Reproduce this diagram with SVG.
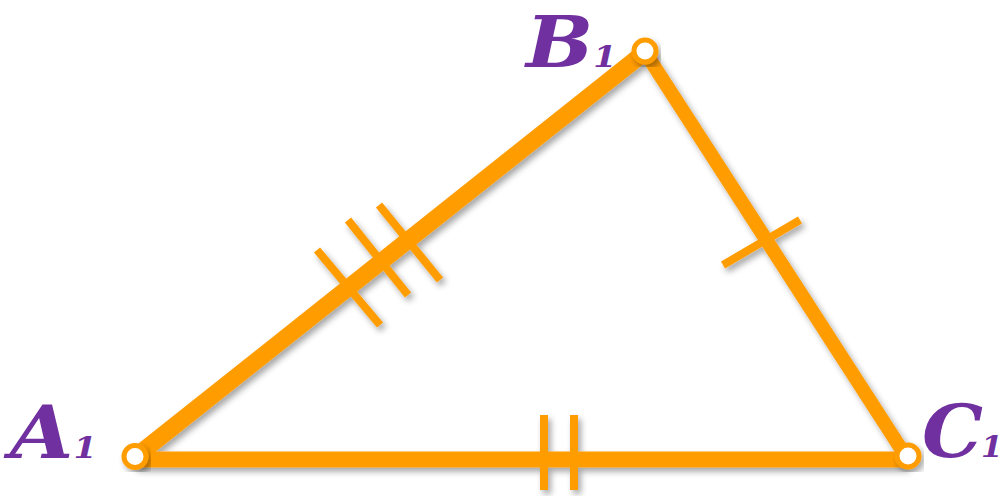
<svg xmlns="http://www.w3.org/2000/svg" width="1003" height="496" viewBox="0 0 1003 496">
<defs>
<filter id="sh" x="-20%" y="-20%" width="140%" height="140%">
<feDropShadow dx="3" dy="4" stdDeviation="3" flood-color="#000" flood-opacity="0.35"/>
</filter>
</defs>
<style>
.seg{stroke:#FF9C00;stroke-linecap:butt;fill:none}
.tick{stroke:#FF9C00;stroke-width:8;stroke-linecap:butt}
.pt{fill:#fff;stroke:#FF9C00;stroke-width:5}
.lbl{font-family:"DejaVu Serif",serif;font-weight:bold;font-style:italic;fill:#7030A0;font-size:73px}
.sub{font-size:30px}
</style>
<rect width="1003" height="496" fill="#fff"/>
<g id="connectors" filter="url(#sh)">
<line class="seg" x1="134" y1="458" x2="645" y2="52" stroke-width="17"/>
<line class="seg" x1="645" y1="52" x2="907" y2="458" stroke-width="14"/>
<line class="seg" x1="134" y1="459.5" x2="907" y2="459.5" stroke-width="16"/>
<line class="tick" x1="317" y1="250" x2="380" y2="325"/>
<line class="tick" x1="348" y1="220" x2="408" y2="295"/>
<line class="tick" x1="379" y1="205" x2="440" y2="280"/>
<line class="tick" x1="544" y1="415" x2="544" y2="490"/>
<line class="tick" x1="574" y1="415" x2="574" y2="490"/>
<line class="tick" x1="723" y1="265" x2="800" y2="220"/>
</g>
<g id="A1">
<circle class="pt" cx="135" cy="456.5" r="11" filter="url(#sh)"/>
<text class="lbl" transform="translate(10,458) scale(1.12,1)">A<tspan class="sub" dx="0">1</tspan></text>
</g>
<g id="B1">
<circle class="pt" cx="645" cy="51" r="11" filter="url(#sh)"/>
<text class="lbl" style="font-size:71px" transform="translate(526,67) scale(1.12,1)">B<tspan class="sub" dx="0">1</tspan></text>
</g>
<g id="C1">
<circle class="pt" cx="908" cy="456" r="11" filter="url(#sh)"/>
<text class="lbl" transform="translate(922,457) scale(1.05,1)">C<tspan class="sub" dx="-2">1</tspan></text>
</g>
</svg>
